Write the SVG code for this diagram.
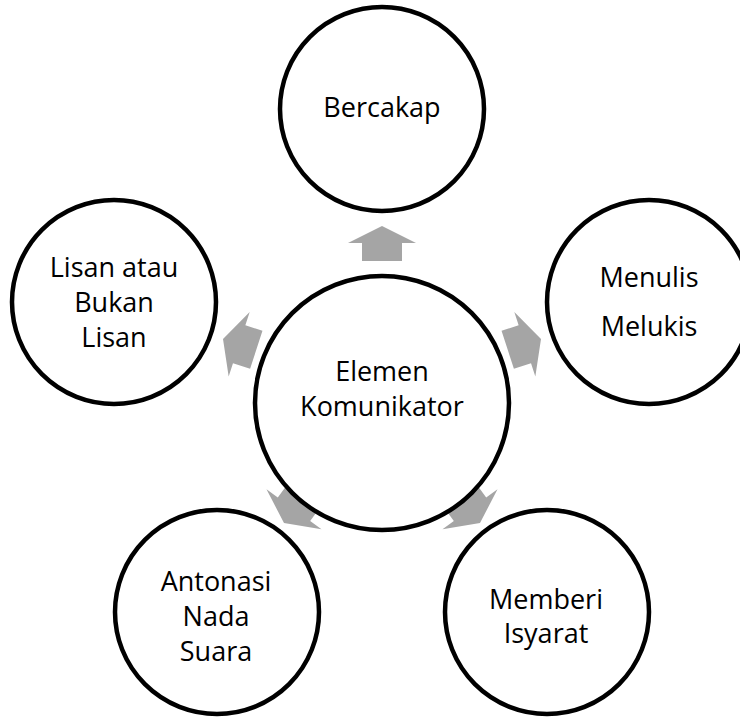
<svg xmlns="http://www.w3.org/2000/svg" width="740" height="719" viewBox="0 0 740 719">
  <style>
    .node circle { fill: #ffffff; stroke: #000000; stroke-width: 4.5; }
    .node text { font-family: "Open Sans", "Noto Sans", "Liberation Sans", sans-serif; font-size: 27px; fill: #000000; text-anchor: middle; }
    .arrow { fill: #a5a5a5; stroke: none; }
  </style>
  <defs>
    <polygon id="blockArrow" class="arrow" points="0,0 34,17 20,17 20,35 -20,35 -20,17 -34,17"/>
  </defs>
  <rect width="740" height="719" fill="#ffffff"/>

  <g id="connectors">
    <use href="#blockArrow" transform="translate(382,226)"/>
    <use href="#blockArrow" transform="translate(541,339) rotate(72)"/>
    <use href="#blockArrow" transform="translate(480,523) rotate(144)"/>
    <use href="#blockArrow" transform="translate(284,523) rotate(-144)"/>
    <use href="#blockArrow" transform="translate(223,339) rotate(-72)"/>
  </g>

  <g id="node-center" class="node">
    <circle cx="382" cy="403" r="127"/>
    <text x="382" y="381">Elemen</text>
    <text x="382" y="416">Komunikator</text>
  </g>

  <g id="node-bercakap" class="node">
    <circle cx="382" cy="109" r="102"/>
    <text x="382" y="117">Bercakap</text>
  </g>

  <g id="node-menulis" class="node">
    <circle cx="649" cy="302" r="102"/>
    <text x="649" y="287">Menulis</text>
    <text x="649" y="336">Melukis</text>
  </g>

  <g id="node-isyarat" class="node">
    <circle cx="547" cy="612" r="102"/>
    <text x="546" y="609">Memberi</text>
    <text x="546" y="643">Isyarat</text>
  </g>

  <g id="node-antonasi" class="node">
    <circle cx="217" cy="612" r="102"/>
    <text x="216" y="591">Antonasi</text>
    <text x="216" y="626">Nada</text>
    <text x="216" y="661">Suara</text>
  </g>

  <g id="node-lisan" class="node">
    <circle cx="114" cy="302" r="102"/>
    <text x="114" y="277">Lisan atau</text>
    <text x="114" y="312">Bukan</text>
    <text x="114" y="347">Lisan</text>
  </g>
</svg>
